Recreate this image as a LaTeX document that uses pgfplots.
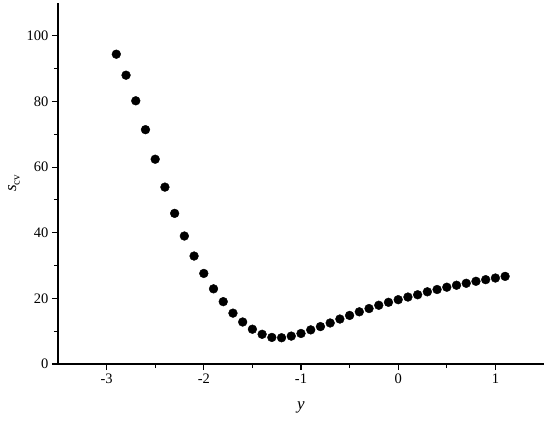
\documentclass[border=0pt]{standalone}
\usepackage{pgfplots}
\pgfplotsset{compat=1.18}
\usepackage{fontspec}
\setmainfont{Liberation Serif}

\begin{document}
\begin{tikzpicture}
\begin{axis}[
    scale only axis,
    width=486pt, height=361pt,
    xmin=-3.5, xmax=1.5,
    ymin=0, ymax=110,
    axis lines*=left,
    axis line style={line width=1.1pt},
    xtick={-3,-2,-1,0,1},
    ytick={0,20,40,60,80,100},
    minor x tick num=1,
    minor y tick num=1,
    tick align=outside,
    major tick length=6pt,
    minor tick length=4pt,
    tick style={line width=1.1pt, black},
    /pgf/number format/assume math mode=true,
    ticklabel style={font=\fontsize{14.5}{16}\selectfont},
    xlabel={\fontsize{17}{19}\selectfont\textit{y}},
    ylabel={\fontsize{17}{19}\selectfont\textit{s}\raisebox{-0.45ex}{\fontsize{11}{12}\selectfont cv}},
    xlabel style={yshift=-12pt},
    ylabel style={yshift=0pt},
]
\addplot[only marks, mark=*, mark size=4.4pt, black] coordinates {
(-2.9,94.4) (-2.8,88.0) (-2.7,80.2) (-2.6,71.4) (-2.5,62.4) (-2.4,53.9)
(-2.3,45.9) (-2.2,39.0) (-2.1,32.9) (-2.0,27.6) (-1.9,22.9) (-1.8,19.0)
(-1.7,15.5) (-1.6,12.8) (-1.5,10.6) (-1.4,9.05) (-1.3,8.1) (-1.2,8.0)
(-1.1,8.5) (-1.0,9.3) (-0.9,10.4) (-0.8,11.4) (-0.7,12.5) (-0.6,13.7)
(-0.5,14.8) (-0.4,15.9) (-0.3,16.9) (-0.2,17.9) (-0.1,18.8) (0.0,19.6)
(0.1,20.4) (0.2,21.1) (0.3,22.0) (0.4,22.7) (0.5,23.4) (0.6,24.0)
(0.7,24.6) (0.8,25.2) (0.9,25.7) (1.0,26.2) (1.1,26.7)
};
\end{axis}
\pgfresetboundingbox
\path (current axis.south west) ++(-58pt,-60pt) rectangle ++(550pt,424pt);
\end{tikzpicture}
\end{document}
